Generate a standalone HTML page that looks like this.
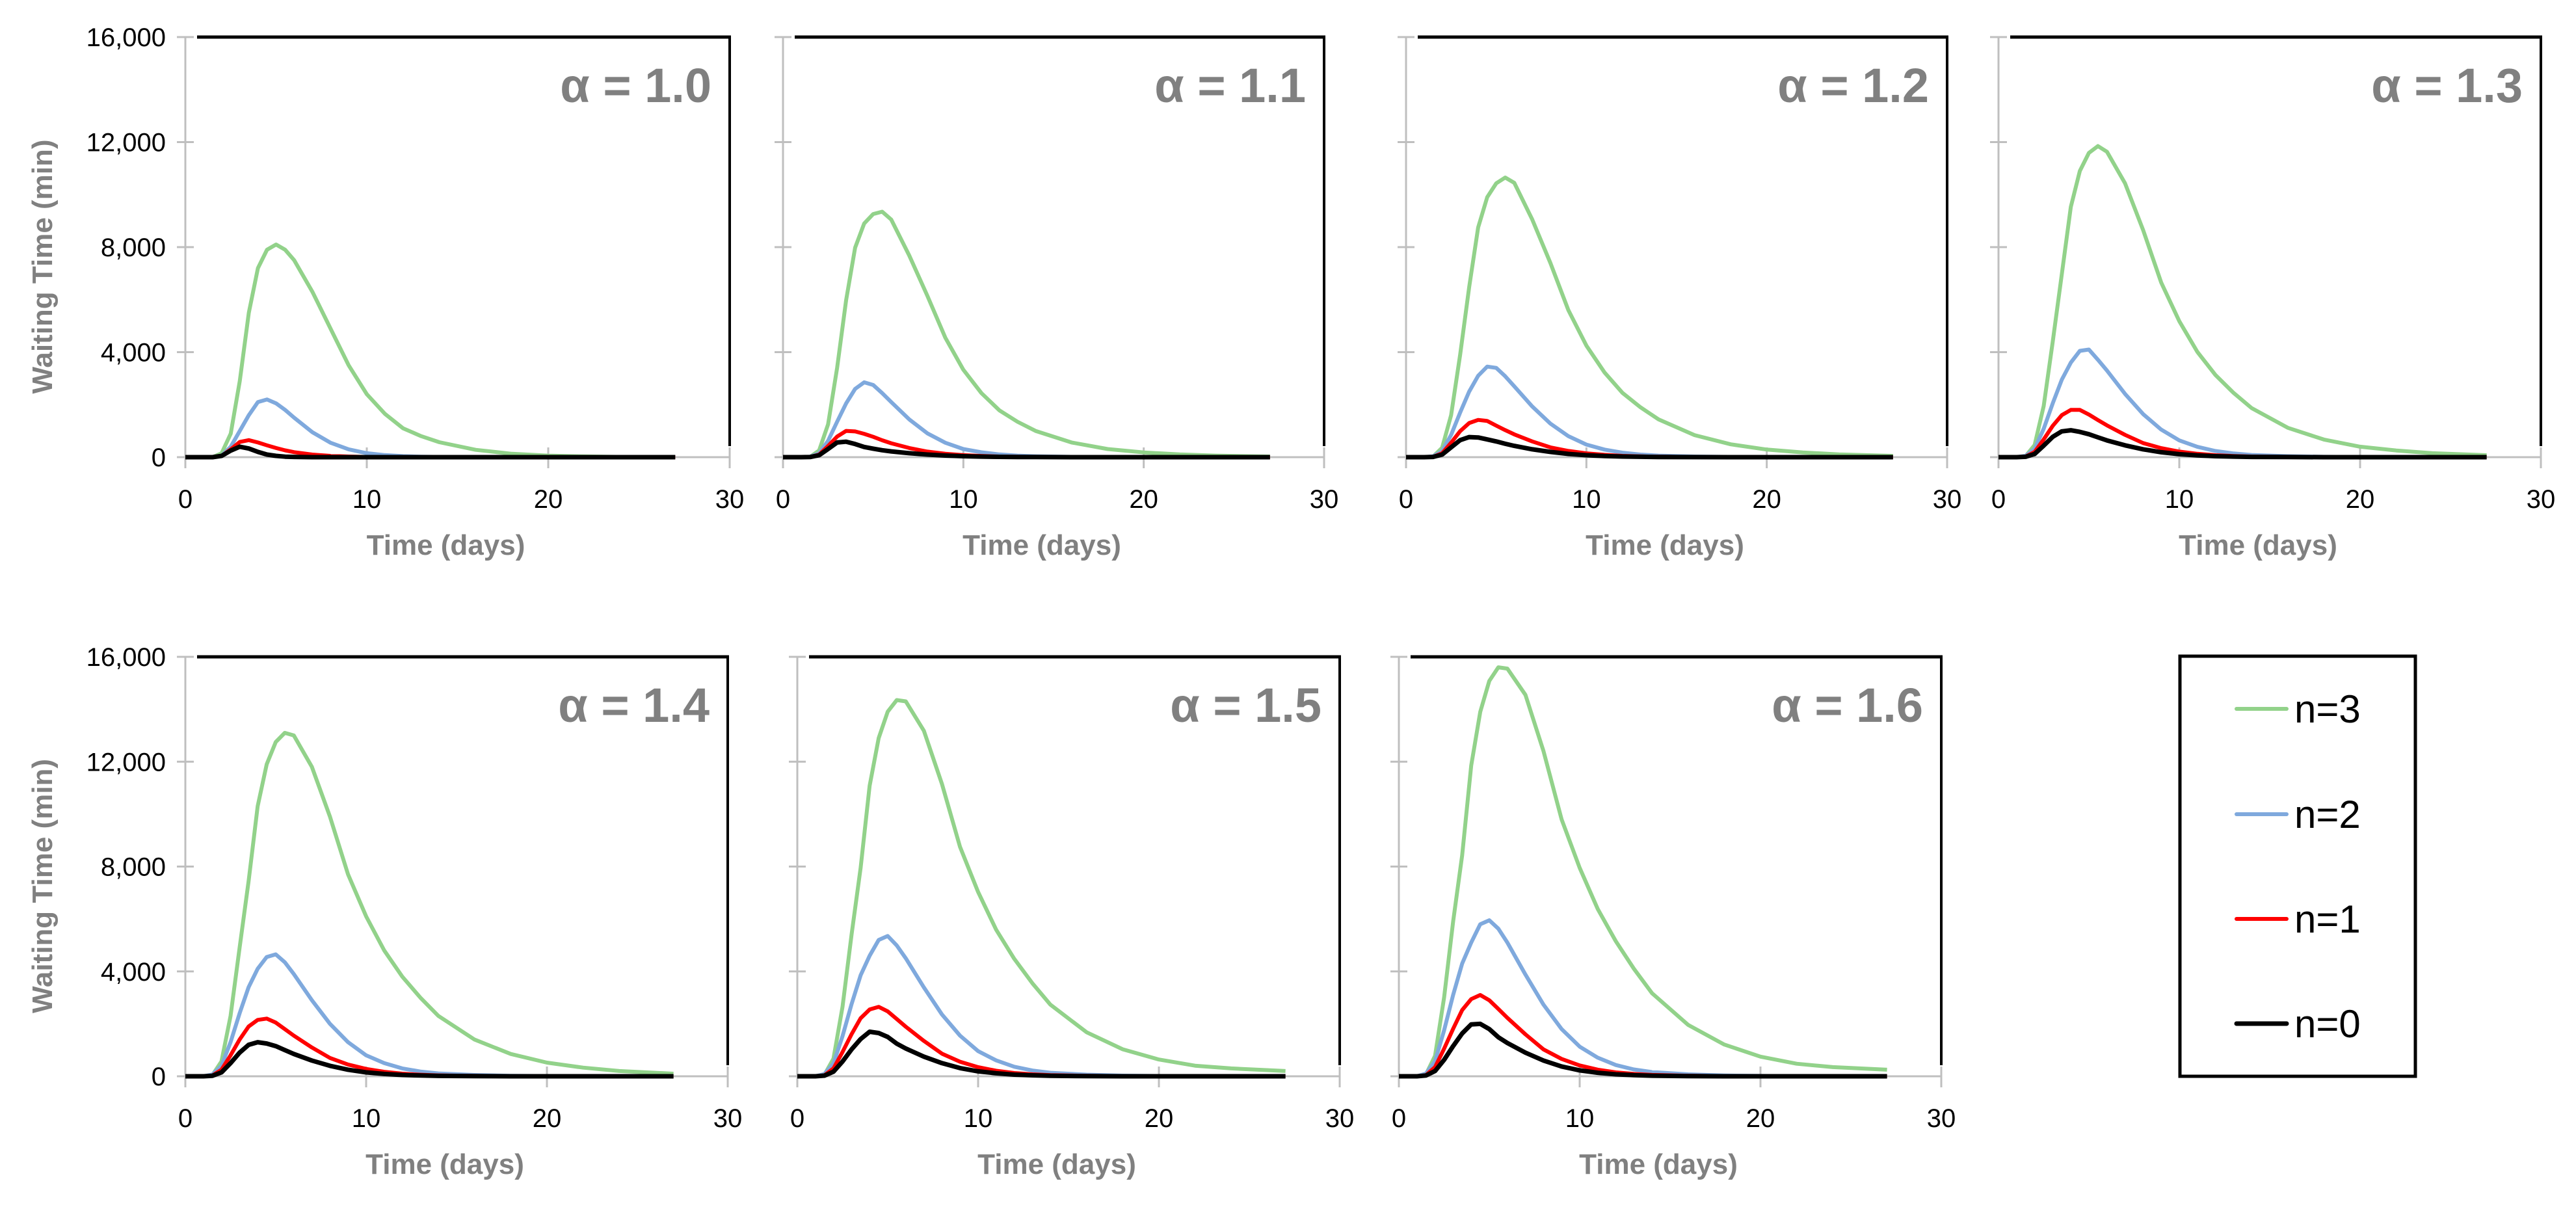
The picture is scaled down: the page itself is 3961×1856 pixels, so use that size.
<!DOCTYPE html>
<html><head><meta charset="utf-8"><style>
html,body{margin:0;padding:0;background:#fff;}
svg{display:block;font-family:"Liberation Sans",sans-serif;}
</style></head><body>
<svg id="fig" width="3961" height="1856" viewBox="0 0 3961 1856" xmlns="http://www.w3.org/2000/svg">
<g>
<rect x="3352" y="1009" width="362" height="646" fill="none" stroke="#000" stroke-width="5"/>
<g><line x1="3439" y1="1090" x2="3516" y2="1090" stroke="#92d28a" stroke-width="6" stroke-linecap="round"/><text x="3528" y="1111" font-size="60">n=3</text></g>
<g><line x1="3439" y1="1252" x2="3516" y2="1252" stroke="#7fa9dd" stroke-width="6" stroke-linecap="round"/><text x="3528" y="1273" font-size="60">n=2</text></g>
<g><line x1="3439" y1="1413" x2="3516" y2="1413" stroke="#ff0000" stroke-width="6" stroke-linecap="round"/><text x="3528" y="1434" font-size="60">n=1</text></g>
<g><line x1="3439" y1="1574" x2="3516" y2="1574" stroke="#000" stroke-width="7" stroke-linecap="round"/><text x="3528" y="1595" font-size="60">n=0</text></g>
</g>
</svg>
<script>
const days = [0,1,1.5,2,2.5,3,3.5,4,4.5,5,5.5,6,7,8,9,10,11,12,13,14,16,18,20,22,24,27];
const alphaLabels = ["α = 1.0","α = 1.1","α = 1.2","α = 1.3","α = 1.4","α = 1.5","α = 1.6"];
const yTicks = [0,4000,8000,12000,16000];
const yTickLabels = ["0","4,000","8,000","12,000","16,000"];
const xTicks = [0,10,20,30];
const xTickLabels = ["0","10","20","30"];
const seriesNames = ["n=3","n=2","n=1","n=0"];

const n3 = [
 [0,0,0,150,900,2900,5500,7200,7900,8100,7900,7500,6300,4900,3500,2400,1650,1100,800,570,280,130,60,30,10,0],
 [0,0,10,255,1250,3400,5990,7980,8900,9260,9350,9050,7680,6150,4550,3330,2440,1780,1350,1000,560,310,180,105,60,25],
 [0,0,25,360,1600,3900,6480,8750,9900,10430,10650,10450,9050,7400,5600,4250,3230,2450,1900,1440,840,490,290,180,105,50],
 [0,0,40,465,1950,4400,6960,9530,10900,11590,11850,11630,10430,8650,6650,5180,4010,3130,2450,1870,1120,670,400,255,150,75],
 [0,0,50,570,2300,4900,7450,10300,11900,12750,13100,13000,11800,9900,7700,6100,4800,3800,3000,2300,1400,850,520,330,200,100],
 [0,0,60,675,2650,5400,7940,11080,12900,13910,14350,14300,13180,11150,8750,7030,5590,4480,3550,2730,1680,1030,640,405,300,200],
 [0,0,75,780,3000,5900,8430,11850,13900,15080,15600,15550,14550,12400,9800,7950,6380,5150,4100,3170,1960,1210,750,480,350,250]
];
const n2 = [
 [0,0,0,60,400,1000,1600,2100,2200,2050,1800,1500,950,550,300,150,80,40,20,10,0,0,0,0,0,0],
 [0,0,18,145,625,1350,2050,2600,2850,2750,2440,2100,1440,910,550,310,185,105,60,35,13,5,3,0,0,0],
 [0,0,35,230,850,1700,2500,3100,3450,3400,3080,2700,1930,1280,800,480,290,170,100,60,25,10,5,0,0,0],
 [0,0,53,315,1080,2050,2950,3600,4050,4100,3710,3300,2410,1640,1050,640,395,235,140,85,38,15,8,0,0,0],
 [0,0,70,400,1300,2400,3400,4100,4550,4650,4350,3900,2900,2000,1300,800,500,300,180,110,50,20,10,0,0,0],
 [0,0,88,485,1530,2750,3850,4600,5200,5350,4990,4500,3390,2360,1550,960,605,365,220,135,63,25,13,0,0,0],
 [0,0,105,570,1750,3100,4300,5100,5800,5950,5630,5100,3880,2730,1800,1130,710,430,260,160,75,30,15,0,0,0]
];
const n1 = [
 [0,0,0,50,300,580,650,560,450,350,260,190,100,50,25,10,5,0,0,0,0,0,0,0,0,0],
 [0,0,8,100,425,785,1000,980,888,775,645,530,350,213,131,78,46,25,15,9,4,1,0,0,0,0],
 [0,0,15,150,550,990,1300,1420,1380,1200,1030,870,600,375,238,145,88,50,30,18,8,3,0,0,0,0],
 [0,0,23,200,675,1195,1600,1800,1800,1625,1415,1210,850,538,344,213,129,75,45,26,11,4,0,0,0,0],
 [0,0,30,250,800,1400,1900,2150,2200,2050,1800,1550,1100,700,450,280,170,100,60,35,15,5,0,0,0,0],
 [0,0,38,300,925,1605,2213,2548,2650,2475,2185,1890,1350,863,556,348,211,125,75,44,19,6,0,0,0,0],
 [0,0,45,350,1050,1810,2525,2945,3100,2900,2570,2230,1600,1025,663,415,253,150,90,53,23,8,0,0,0,0]
];
const n0 = [
 [0,0,0,50,250,400,330,200,100,50,20,10,0,0,0,0,0,0,0,0,0,0,0,0,0,0],
 [0,0,5,75,313,560,590,500,388,325,265,220,150,100,63,38,23,13,8,4,1,0,0,0,0,0],
 [0,0,10,100,375,650,765,750,675,600,510,430,300,200,125,75,45,25,15,8,3,0,0,0,0,0],
 [0,0,15,125,438,775,983,1025,963,875,755,640,450,300,188,113,68,38,23,11,4,0,0,0,0,0],
 [0,0,20,150,500,900,1200,1300,1250,1150,1000,850,600,400,250,150,90,50,30,15,5,0,0,0,0,0],
 [0,0,25,175,563,1025,1418,1700,1650,1500,1245,1060,750,500,313,188,113,63,38,19,6,0,0,0,0,0],
 [0,0,30,200,625,1150,1635,1980,2000,1800,1490,1270,900,600,375,225,135,75,45,23,8,0,0,0,0,0]
];

const panels = [
 {x0:285,x1:1122,y0:703,y1:57,labels:true},
 {x0:1204,x1:2036,y0:703,y1:57,labels:false},
 {x0:2162,x1:2994,y0:703,y1:57,labels:false},
 {x0:3073,x1:3907,y0:703,y1:57,labels:false},
 {x0:285,x1:1119,y0:1655,y1:1010,labels:true},
 {x0:1226,x1:2060,y0:1655,y1:1010,labels:false},
 {x0:2151,x1:2985,y0:1655,y1:1010,labels:false}
];
const colors = ["#92d28a","#7fa9dd","#ff0000","#000000"];
const NS = "http://www.w3.org/2000/svg";
const svg = document.getElementById("fig");
function mk(tag, attrs, parent){
  const e = document.createElementNS(NS, tag);
  for (const k in attrs) e.setAttribute(k, attrs[k]);
  parent.appendChild(e);
  return e;
}
panels.forEach((p, i) => {
  const sx = d => p.x0 + (d/30)*(p.x1-p.x0);
  const sy = v => p.y0 - (v/16000)*(p.y0-p.y1);
  const g = mk("g", {}, svg);
  
  
  // frame
  const top = mk("line", {x1:p.x0+18,y1:p.y1,x2:p.x1+2,y2:p.y1,stroke:"#000","stroke-width":5}, g);
  
  
  const right = mk("line", {x1:p.x1,y1:p.y1,x2:p.x1,y2:p.y0-17,stroke:"#000","stroke-width":4}, g);
  
  
  const yax = mk("line", {x1:p.x0,y1:p.y1,x2:p.x0,y2:p.y0,stroke:"#bfbfbf","stroke-width":3}, g);
  
  
  const xax = mk("line", {x1:p.x0,y1:p.y0,x2:p.x1,y2:p.y0,stroke:"#bfbfbf","stroke-width":3}, g);
  
  
  yTicks.forEach((t, k) => {
    const tk = mk("line", {x1:p.x0-13,y1:sy(t),x2:p.x0+13,y2:sy(t),stroke:"#bfbfbf","stroke-width":3}, g);
    
    
    if (p.labels) {
      const tl = mk("text", {x:p.x0-30,y:sy(t)+14,"font-size":40,"text-anchor":"end"}, g);
      tl.textContent = yTickLabels[k];
      
      
    }
  });
  xTicks.forEach((t, k) => {
    const tk = mk("line", {x1:sx(t),y1:p.y0-15,x2:sx(t),y2:p.y0+17,stroke:"#bfbfbf","stroke-width":3}, g);
    
    
    const tl = mk("text", {x:sx(t),y:p.y0+78,"font-size":40,"text-anchor":"middle"}, g);
    tl.textContent = xTickLabels[k];
    
    
  });
  const xt = mk("text", {x:(p.x0+p.x1)/2-18,y:p.y0+150,"font-size":44,"font-weight":"bold",fill:"#808080","text-anchor":"middle"}, g);
  xt.textContent = "Time (days)";
  
  
  if (p.labels) {
    const cy = (p.y0+p.y1)/2 + 30;
    const yt = mk("text", {x:0,y:0,"font-size":44,"font-weight":"bold",fill:"#808080","text-anchor":"middle",transform:"translate(80,"+cy+") rotate(-90)"}, g);
    yt.textContent = "Waiting Time (min)";
    
    
  }
  const al = mk("text", {x:p.x1-28,y:p.y1+100,"font-size":74,"font-weight":"bold",fill:"#808080","text-anchor":"end"}, g);
  al.textContent = alphaLabels[i];
  
  
  [n3[i], n2[i], n1[i], n0[i]].forEach((vals, s) => {
    const pts = days.map((d, j) => sx(d).toFixed(1) + "," + sy(vals[j]).toFixed(1)).join(" ");
    const pl = mk("polyline", {points:pts,fill:"none",stroke:colors[s],"stroke-width":s===3?7:6,"stroke-linejoin":"round"}, g);
    
    
  });
});
</script>
</body></html>
